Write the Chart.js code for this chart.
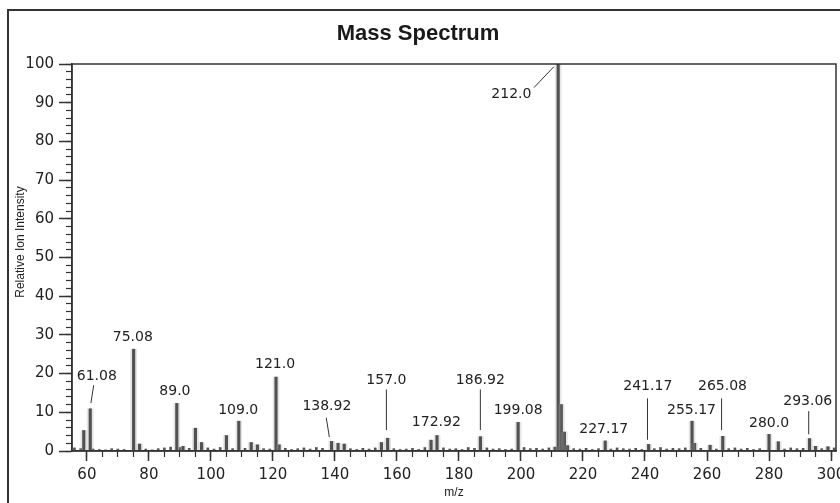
<!DOCTYPE html>
<html>
<head>
<meta charset="utf-8">
<script src="https://cdn.jsdelivr.net/npm/chart.js@4"></script>
<style>
  html, body { margin: 0; padding: 0; background: #fff; overflow: hidden; }
  #wrap { position: relative; width: 840px; height: 503px; }
  #frame { position: absolute; left: 7px; top: 9px; right: -20px; bottom: -20px; border: 2px solid #333; }
  #chart { position: absolute; left: 0; top: 0; }
</style>
</head>
<body>
<div id="wrap">
  <div id="frame"></div>
  <canvas id="chart" width="840" height="503"></canvas>
</div>
<script>
// picos principales (m/z, intensidad relativa)
const peakMz  = [59, 61.08, 75.08, 77, 89.0, 91, 95, 97, 105, 109.0, 113, 115, 121.0, 122,
                 138.92, 141, 143, 155, 157.0, 171, 172.92, 186.92, 199.08, 211, 212.0, 213, 214, 215,
                 227.17, 241.17, 255.17, 256, 261, 265.08, 280.0, 283, 293.06, 295, 299];
const peakInt = [5.3, 10.9, 26.3, 1.8, 12.3, 1.2, 5.9, 2.2, 4.0, 7.7, 2.2, 1.6, 19.1, 1.6,
                 2.5, 2.0, 1.8, 2.2, 3.3, 2.8, 4.0, 3.7, 7.4, 1.0, 100, 12, 4.9, 1.4,
                 2.6, 1.7, 7.7, 2.0, 1.5, 3.8, 4.3, 2.4, 3.2, 1.2, 1.1];

// ruido de fondo
const noiseMz  = [56, 58, 62, 64, 66, 68, 70, 72, 79, 81, 83, 85, 87, 90, 93, 99, 101, 103, 107, 111,
                  117, 119, 124, 126, 128, 130, 132, 134, 136, 145, 147, 149, 151, 153, 159, 161, 163,
                  165, 167, 169, 175, 177, 179, 181, 183, 185, 189, 191, 193, 195, 197, 201, 203, 205,
                  207, 209, 217, 219, 221, 223, 225, 229, 231, 233, 235, 237, 239, 243, 245, 247, 249,
                  251, 253, 258, 263, 267, 269, 271, 273, 275, 277, 285, 287, 289, 291, 297, 301];
const noiseInt = [0.8, 0.6, 0.5, 0.4, 0.3, 0.6, 0.5, 0.4, 0.5, 0.3, 0.6, 0.8, 1.0, 0.9, 0.7, 0.8, 0.5, 0.9, 0.6, 0.7,
                  0.6, 0.5, 0.7, 0.4, 0.6, 0.8, 0.5, 0.9, 0.7, 0.6, 0.4, 0.7, 0.5, 0.8, 0.6, 0.4, 0.5,
                  0.7, 0.4, 0.9, 0.8, 0.5, 0.6, 0.4, 0.9, 0.7, 0.8, 0.5, 0.6, 0.4, 0.5, 0.9, 0.6, 0.7,
                  0.5, 0.8, 0.6, 0.5, 0.7, 0.4, 0.6, 0.5, 0.8, 0.6, 0.5, 0.7, 0.4, 0.6, 0.9, 0.5, 0.7,
                  0.6, 0.8, 0.7, 0.5, 0.6, 0.8, 0.5, 0.7, 0.4, 0.6, 0.5, 0.8, 0.6, 0.7, 0.6, 0.8];

const xTicksMajor = 20, xTicksMinor = 5;
const yTicksMajor = 10, yTicksMinor = 2;

// etiquetas de picos: texto, centro del texto (m/z, intensidad), linea guia
const labelText = ['61.08', '75.08', '89.0', '109.0', '121.0', '138.92', '157.0', '172.92', '186.92',
                   '199.08', '212.0', '227.17', '241.17', '255.17', '265.08', '280.0', '293.06'];
const labelMz   = [63.2, 74.8, 88.4, 108.8, 120.7, 137.4, 156.6, 172.7, 186.9,
                   199.1, 196.9, 226.7, 240.9, 255.0, 265.0, 280.0, 292.5];
const labelInt  = [19.4, 29.4, 15.3, 10.5, 22.5, 11.6, 18.3, 7.3, 18.3,
                   10.5, 92.2, 5.6, 16.6, 10.5, 16.6, 7.2, 12.9];
const leaders = {
  '61.08':  [62.2, 17.0, 61.3, 12.4],
  '138.92': [137.2, 8.6, 138.2, 3.6],
  '157.0':  [156.6, 15.9, 156.6, 5.4],
  '186.92': [186.9, 15.9, 186.9, 5.4],
  '212.0':  [204.2, 93.9, 210.6, 99.3],
  '241.17': [240.8, 13.6, 240.8, 2.9],
  '265.08': [264.7, 13.6, 264.7, 5.4],
  '293.06': [292.8, 10.3, 292.8, 4.3]
};
const yTitle = 'Relative Ion Intensity';

const toXY = (xs, ys) => xs.map((x, i) => ({ x: x, y: ys[i] }));

const fixSize = (w, h) => scale => {
  if (w !== null) scale.width = w;
  if (h !== null) scale.height = h;
  scale.paddingLeft = 0; scale.paddingRight = 0;
  scale.paddingTop = 0; scale.paddingBottom = 0;
};

const peakLabels = {
  id: 'peakLabels',
  afterDatasetsDraw(chart) {
    const { ctx, chartArea, scales: { x, y } } = chart;
    ctx.save();
    // marco del area de trazado
    ctx.strokeStyle = '#333';
    ctx.lineWidth = 1.5;
    ctx.strokeRect(chartArea.left, chartArea.top, chartArea.right - chartArea.left, chartArea.bottom - chartArea.top);

    ctx.font = '14px "DejaVu Sans"';
    ctx.fillStyle = '#222';
    ctx.textAlign = 'center';
    ctx.textBaseline = 'middle';
    labelText.forEach((t, i) => {
      ctx.fillText(t, x.getPixelForValue(labelMz[i]), y.getPixelForValue(labelInt[i]));
      const l = leaders[t];
      if (l) {
        ctx.beginPath();
        ctx.strokeStyle = '#333';
        ctx.lineWidth = 1;
        ctx.moveTo(x.getPixelForValue(l[0]), y.getPixelForValue(l[1]));
        ctx.lineTo(x.getPixelForValue(l[2]), y.getPixelForValue(l[3]));
        ctx.stroke();
      }
    });

    // titulo del eje y (un poco por encima del centro, como en el original)
    ctx.translate(20.5, y.getPixelForValue(54));
    ctx.rotate(-Math.PI / 2);
    ctx.font = '12px "Liberation Sans"';
    ctx.fillText(yTitle, 0, 0);
    ctx.restore();
  }
};

const tickFont = { family: 'DejaVu Sans', size: 15 };

new Chart(document.getElementById('chart'), {
  type: 'bar',
  data: {
    datasets: [
      {
        label: 'halo',
        data: toXY(peakMz, peakInt),
        backgroundColor: 'rgba(150,150,150,0.25)',
        barThickness: 6
      },
      {
        label: 'ruido',
        data: toXY(noiseMz, noiseInt),
        backgroundColor: '#555',
        barThickness: 2
      },
      {
        label: 'Intensidad',
        data: toXY(peakMz, peakInt),
        backgroundColor: '#3a3a3a',
        barThickness: 2.5
      }
    ]
  },
  options: {
    responsive: false,
    animation: false,
    layout: { padding: { left: 0, right: 4, top: 0, bottom: 0 } },
    datasets: { bar: { grouped: false } },
    plugins: {
      legend: { display: false },
      tooltip: { enabled: false },
      title: {
        display: true,
        text: 'Mass Spectrum',
        color: '#1a1a1a',
        font: { family: 'Liberation Sans', size: 22, weight: 'bold' },
        padding: { top: 21, bottom: 16.6 }
      }
    },
    scales: {
      x: {
        type: 'linear',
        position: 'bottom',
        weight: 1,
        min: 55.2,
        max: 301.6,
        offset: false,
        afterFit: fixSize(null, 52),
        border: { color: '#333', width: 1.5 },
        grid: { offset: false, drawOnChartArea: false, tickLength: 10, tickColor: '#333', tickWidth: 1.5 },
        ticks: { stepSize: xTicksMajor, includeBounds: false, autoSkip: false, maxRotation: 0,
                 padding: 5, color: '#222', font: tickFont },
        title: { display: true, text: 'm/z', color: '#222',
                 font: { family: 'Liberation Sans', size: 12 }, padding: { top: 0, bottom: 3 } }
      },
      xMinor: {
        type: 'linear',
        position: 'bottom',
        weight: 0,
        min: 55.2,
        max: 301.6,
        offset: false,
        afterFit: fixSize(null, 0),
        border: { display: false },
        grid: { offset: false, drawOnChartArea: false, tickLength: 6, tickColor: '#333', tickWidth: 1.2 },
        ticks: { stepSize: xTicksMinor, includeBounds: false, display: false, autoSkip: false }
      },
      y: {
        type: 'linear',
        position: 'left',
        weight: 1,
        min: 0,
        max: 100,
        afterFit: fixSize(72, null),
        border: { color: '#333', width: 1.5 },
        grid: { drawOnChartArea: false, tickLength: 13, tickColor: '#333', tickWidth: 1.5 },
        ticks: { stepSize: yTicksMajor, includeBounds: false, autoSkip: false,
                 padding: 5, color: '#222', font: tickFont }
      },
      yMinor: {
        type: 'linear',
        position: 'left',
        weight: 0,
        min: 0,
        max: 100,
        afterFit: fixSize(0, null),
        border: { display: false },
        grid: { drawOnChartArea: false, tickLength: 6, tickColor: '#333', tickWidth: 1.2 },
        ticks: { stepSize: yTicksMinor, includeBounds: false, display: false, autoSkip: false }
      }
    }
  },
  plugins: [peakLabels]
});
</script>
</body>
</html>
